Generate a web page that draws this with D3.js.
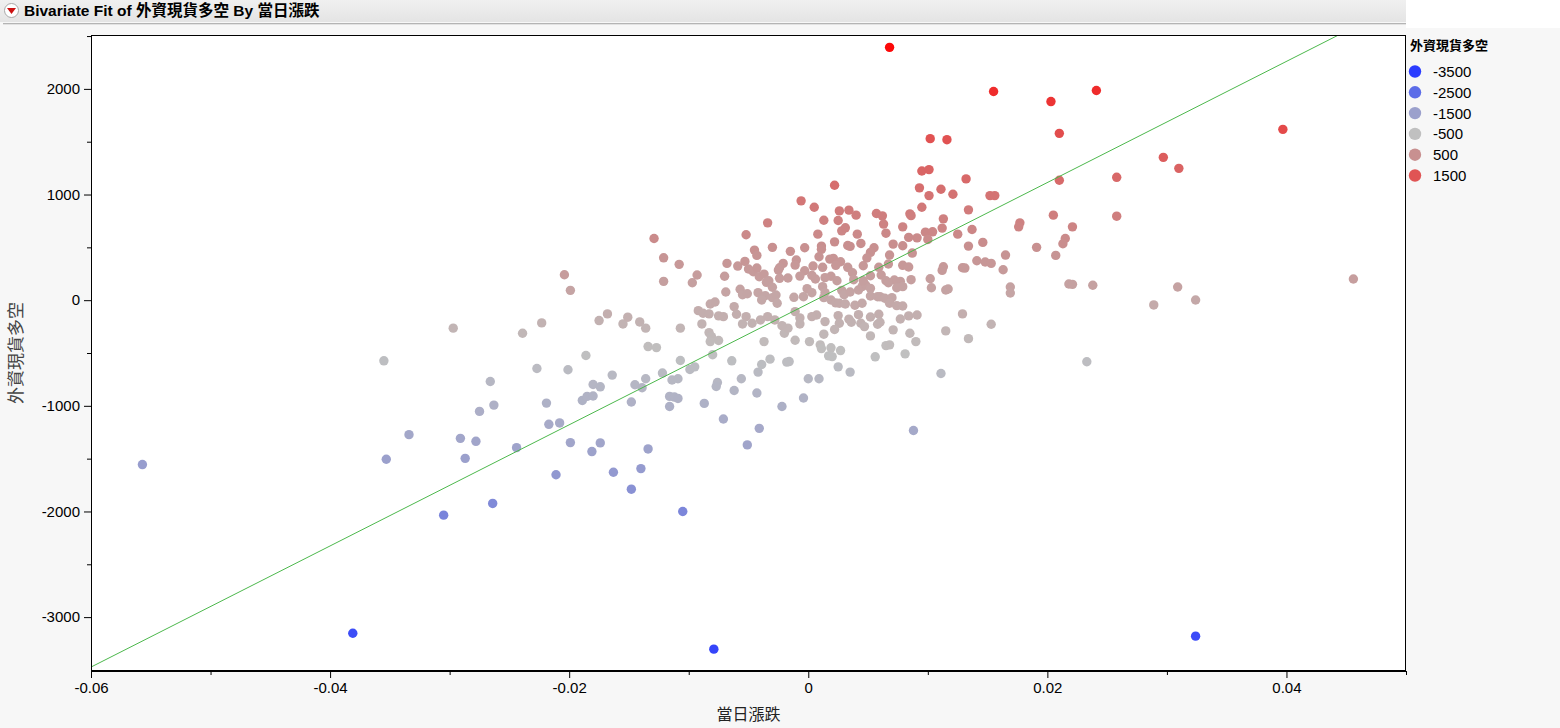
<!DOCTYPE html>
<html><head><meta charset="utf-8">
<script src="https://cdn.jsdelivr.net/npm/d3@7"></script>
<style>
html,body{margin:0;padding:0;background:#f7f7f7;}
svg{display:block;}
</style></head><body>
<svg id="chart" width="1560" height="728"></svg>
<script>
// 當日漲跌 (x values)
const dailyChange = [
-0.0557,-0.0381,-0.0079,0.0324,0.0068,0.0155,0.0203,0.0241,0.0210,0.0397,
0.0297,0.0310,0.0258,0.0210,0.0456,0.0324,0.0309,0.0289,0.0233,0.0258,
0.0088,0.0238,0.0102,0.0116,0.0205,0.0221,0.0215,0.0213,0.0207,0.0218,
0.0221,0.0095,0.0101,0.0022,0.0132,0.0093,0.0111,0.0101,0.0121,0.0152,
0.0156,-0.0006,0.0005,0.0095,0.0026,0.0034,0.0040,0.0057,0.0062,0.0085,
0.0086,0.0134,0.0013,0.0025,0.0113,0.0063,0.0079,0.0112,0.0137,0.0177,
0.0176,0.0028,0.0031,0.0008,0.0041,0.0065,0.0098,0.0104,0.0091,0.0100,
0.0084,0.0079,0.0022,0.0033,0.0035,0.0044,0.0055,0.0011,0.0011,-0.0015,
-0.0003,0.0134,0.0146,0.0087,0.0052,0.0068,0.0018,0.0021,0.0027,0.0009,
-0.0010,-0.0011,-0.0021,-0.0003,0.0004,0.0012,0.0023,0.0033,0.0037,0.0046,
0.0049,0.0059,0.0061,0.0067,0.0072,0.0077,0.0079,0.0084,0.0074,0.0079,
0.0086,0.0102,0.0103,0.0113,0.0112,0.0129,0.0131,0.0141,0.0148,0.0153,
0.0163,0.0165,0.0169,0.0169,0.0115,0.0117,0.0191,-0.0017,-0.0001,0.0003,
-0.0012,-0.0004,0.0012,0.0014,0.0013,0.0019,0.0028,0.0030,0.0023,0.0026,
0.0031,0.0035,0.0042,0.0045,0.0048,0.0052,0.0052,0.0058,0.0060,0.0039,
0.0045,0.0064,0.0070,0.0068,0.0074,0.0079,0.0084,0.0091,0.0059,0.0052,
0.0042,0.0034,0.0036,0.0025,0.0026,0.0014,0.0007,0.0003,-0.0011,-0.0007,
-0.0007,0.0044,0.0047,0.0058,0.0060,0.0071,0.0077,0.0085,0.0090,0.0013,
0.0022,0.0052,0.0001,-0.0011,-0.0020,-0.0017,0.0010,0.0011,0.0019,0.0020,
0.0017,0.0027,0.0065,0.0068,0.0081,0.0056,0.0025,0.0035,-0.0018,-0.0016,
0.0000,0.0009,-0.0004,-0.0022,0.0115,0.0129,0.0134,0.0153,0.0111,0.0125,
0.0071,0.0006,0.0003,0.0019,0.0014,0.0024,-0.0007,0.0052,0.0046,0.0038,
0.0065,0.0067,-0.0034,-0.0052,-0.0129,-0.0121,-0.0108,-0.0204,-0.0199,-0.0121,
-0.0097,-0.0093,-0.0070,-0.0068,-0.0059,-0.0053,-0.0045,-0.0043,-0.0030,-0.0024,
-0.0050,-0.0046,-0.0043,-0.0041,-0.0037,-0.0033,-0.0035,-0.0030,-0.0025,-0.0024,
-0.0069,-0.0057,-0.0055,-0.0051,-0.0042,-0.0036,-0.0039,-0.0030,-0.0027,-0.0026,
-0.0082,-0.0078,-0.0092,-0.0088,-0.0083,-0.0075,-0.0071,-0.0062,-0.0060,-0.0052,
-0.0047,-0.0055,-0.0040,-0.0034,-0.0028,-0.0022,-0.0083,-0.0081,-0.0075,-0.0082,
-0.0089,-0.0107,-0.0141,-0.0136,-0.0155,-0.0151,-0.0168,-0.0175,-0.0223,-0.0239,
-0.0134,-0.0127,-0.0107,-0.0186,-0.0227,-0.0201,-0.0164,-0.0180,-0.0174,-0.0145,
-0.0139,-0.0136,-0.0122,-0.0114,-0.0109,-0.0099,-0.0095,-0.0116,-0.0112,-0.0109,
-0.0148,-0.0116,-0.0087,-0.0080,-0.0064,-0.0076,-0.0077,-0.0062,-0.0056,-0.0043,
-0.0042,-0.0039,-0.0032,-0.0219,-0.0189,-0.0185,-0.0180,-0.0037,-0.0297,-0.0355,
-0.0266,-0.0275,-0.0263,-0.0334,-0.0291,-0.0278,-0.0353,-0.0287,-0.0244,-0.0217,
-0.0208,-0.0199,-0.0181,-0.0174,-0.0211,-0.0264,-0.0305,-0.0071,-0.0041,-0.0051,
-0.0134,-0.0163,-0.0140,-0.0148,-0.0105
];
// 外資現貨多空 (y values)
const foreignFlow = [
-1556,-3153,-3303,-3180,2393,1975,1880,1985,1579,1617,
1352,1248,1163,1135,200,2,125,-45,-583,795,
-1234,141,1529,1519,805,694,584,534,424,153,
150,1223,1236,1088,1148,1063,1050,990,1003,990,
990,940,880,880,845,852,805,820,798,817,
800,855,757,754,770,720,694,682,669,732,
694,656,685,625,625,634,644,647,590,575,
594,515,552,518,509,537,496,512,481,462,
496,512,547,446,452,427,389,395,364,411,
380,332,348,279,323,311,330,311,260,326,
399,311,238,342,191,178,330,314,118,128,
194,203,118,316,282,307,304,373,361,348,
288,427,125,68,96,106,500,210,109,71,
27,33,128,71,24,2,93,52,-26,-29,
-36,77,96,128,144,112,40,33,33,-48,
-29,18,24,-29,-52,-55,-149,-140,-133,-159,
-137,-180,-209,-146,-218,-203,-140,-156,-108,-168,
-225,-218,-250,-228,-209,-281,-178,-313,-392,-322,
-278,-338,-392,-379,-313,-265,-423,-458,-451,-534,
-527,-477,-430,-423,-508,-536,-631,-681,-586,-581,
-744,-744,-926,-1006,-291,-130,-364,-228,-694,625,
531,200,235,226,213,184,228,231,184,194,
184,165,732,619,584,401,339,241,93,178,
165,238,226,348,323,367,474,424,500,307,
295,269,304,222,247,184,169,122,285,207,
77,103,52,61,71,43,2,24,49,-29,
-36,-17,-99,-124,-130,-149,-156,-61,-133,-156,
-218,-225,-187,-156,-187,-241,-307,-345,-382,-392,
-225,-265,-206,-265,-225,-161,-130,-193,-215,-313,
-439,-449,-571,-524,-647,-659,-709,-798,-820,-801,
-829,-744,-690,-756,-744,-656,-631,-911,-917,-930,
-964,-1006,-977,-517,-574,-779,-817,-855,-744,-879,
-681,-609,-558,-974,-949,-911,-907,-392,-265,-574,
-770,-1053,-993,-1273,-1308,-1336,-1506,-1497,-1396,-1175,
-1162,-1348,-1433,-1351,-1652,-1924,-2035,-1125,-1213,-1370,
-1408,-1629,-1594,-1789,-2000
];
const xTicks = [-0.06,-0.04,-0.02,0,0.02,0.04];
const xTickLabels = ["-0.06","-0.04","-0.02","0","0.02","0.04"];
const xMinorTicks = [-0.05,-0.03,-0.01,0.01,0.03,0.05];
const yTicks = [-3000,-2000,-1000,0,1000,2000];
const yTickLabels = ["-3000","-2000","-1000","0","1000","2000"];
const yMinorTicks = [-2500,-1500,-500,500,1500,2500];
const legendValues = [-3500,-2500,-1500,-500,500,1500];
const legendLabels = ["-3500","-2500","-1500","-500","500","1500"];
const legendColors = ["#2b3cff","#5c6ce8","#9ba0cc","#c0c0c0","#c89090","#e05454"];
const colorTopValue = [2500];
const colorTopColor = ["#ff0000"];
const fitCoef = [-33, 57330]; // intercept, slope
const titleText = "Bivariate Fit of 外資現貨多空 By 當日漲跌";
const xLabel = "當日漲跌";
const yLabel = "外資現貨多空";

const svg = d3.select("#chart");
const L = 91, R = 1406, T = 35, B = 671;
const x = d3.scaleLinear().domain([-0.06, 0.05]).range([L, R]);
const y = d3.scaleLinear().domain([-3510, 2510]).range([B, T]);
const color = d3.scaleLinear()
  .domain(legendValues.concat(colorTopValue))
  .range(legendColors.concat(colorTopColor))
  .clamp(true);

// top-right white corner
svg.append("rect").attr("x",1406).attr("y",0).attr("width",154).attr("height",28).attr("fill","#ffffff");
// title bar
const grad = svg.append("defs").append("linearGradient").attr("id","tb").attr("x1",0).attr("y1",0).attr("x2",0).attr("y2",1);
grad.append("stop").attr("offset","0%").attr("stop-color","#f0f0f0");
grad.append("stop").attr("offset","100%").attr("stop-color","#e4e4e4");
svg.append("rect").attr("x",0).attr("y",0).attr("width",1406).attr("height",22).attr("fill","url(#tb)");
svg.append("line").attr("x1",3).attr("x2",1406).attr("y1",23.5).attr("y2",23.5).attr("stroke","#b4b4b4");
svg.append("line").attr("x1",3).attr("x2",1406).attr("y1",24.5).attr("y2",24.5).attr("stroke","#e2e2e2");
// disclosure icon
svg.append("rect").attr("x",4.5).attr("y",3.5).attr("width",14).attr("height",14).attr("rx",7)
  .attr("fill","#ffffff").attr("stroke","#a8a8a8");
svg.append("path").attr("d","M7,8 L16,8 L11.5,14 Z").attr("fill","#cc1111");
svg.append("text").attr("x",24).attr("y",16)
  .attr("font-family","'Liberation Sans', Arial, 'Noto Sans CJK TC', sans-serif")
  .attr("font-size",15.5).attr("font-weight","bold").attr("fill","#000").text(titleText);

// plot background
svg.append("rect").attr("x",L).attr("y",T).attr("width",R-L).attr("height",B-T).attr("fill","#ffffff");

const clip = svg.append("clipPath").attr("id","pc");
clip.append("rect").attr("x",L).attr("y",T).attr("width",R-L).attr("height",B-T);

// points
svg.append("g").attr("clip-path","url(#pc)")
  .selectAll("circle").data(d3.range(dailyChange.length)).join("circle")
  .attr("cx", i => x(dailyChange[i]))
  .attr("cy", i => y(foreignFlow[i]))
  .attr("r", 4.7)
  .attr("fill", i => color(foreignFlow[i]));

// fit line
const fx0 = x.domain()[0], fx1 = x.domain()[1];
svg.append("line").attr("clip-path","url(#pc)")
  .attr("x1", x(fx0)).attr("y1", y(fitCoef[0] + fitCoef[1]*fx0))
  .attr("x2", x(fx1)).attr("y2", y(fitCoef[0] + fitCoef[1]*fx1))
  .attr("stroke","#4cb84c").attr("stroke-width",1);

// frame
svg.append("rect").attr("x",L+0.5).attr("y",T+0.5).attr("width",R-L-1).attr("height",B-T-1)
  .attr("fill","none").attr("stroke","#000");

const tickFont = "'Liberation Sans', Arial, sans-serif";
// x axis
svg.append("g").attr("transform",`translate(0,${B})`)
  .call(d3.axisBottom(x).tickValues(xTicks).tickSize(7).tickSizeOuter(0).tickPadding(4)
    .tickFormat((d,i) => xTickLabels[i]));
svg.append("g").attr("transform",`translate(0,${B})`)
  .call(d3.axisBottom(x).tickValues(xMinorTicks).tickSize(4).tickSizeOuter(0).tickFormat(""));
// y axis
svg.append("g").attr("transform",`translate(${L},0)`)
  .call(d3.axisLeft(y).tickValues(yTicks).tickSize(7).tickSizeOuter(0).tickPadding(4)
    .tickFormat((d,i) => yTickLabels[i]));
svg.append("g").attr("transform",`translate(${L},0)`)
  .call(d3.axisLeft(y).tickValues(yMinorTicks).tickSize(4).tickSizeOuter(0).tickFormat(""));
svg.selectAll(".domain").attr("stroke","#000");
svg.selectAll(".tick line").attr("stroke","#000");
svg.selectAll(".tick text").attr("font-family",tickFont).attr("font-size",15).attr("fill","#000");

// axis labels
svg.append("text").attr("x",(L+R)/2).attr("y",720).attr("text-anchor","middle")
  .attr("font-family","'Noto Sans CJK TC', sans-serif").attr("font-size",16).attr("fill","#222").text(xLabel);
svg.append("text").attr("transform",`translate(22,${(T+B)/2}) rotate(-90)`).attr("text-anchor","middle")
  .attr("font-family","'Noto Sans CJK TC', sans-serif").attr("font-size",17).attr("fill","#444").text(yLabel);

// legend
const lg = svg.append("g");
lg.append("text").attr("x",1410).attr("y",50)
  .attr("font-family","'Noto Sans CJK TC', sans-serif").attr("font-size",13).attr("font-weight","bold")
  .attr("fill","#000").text(yLabel);
const items = lg.selectAll("g.it").data(legendValues).join("g").attr("class","it")
  .attr("transform",(d,i)=>`translate(1415,${71.5 + i*20.8})`);
items.append("circle").attr("r",6.2).attr("fill",(d,i)=>legendColors[i]);
items.append("text").attr("x",18).attr("dy","0.36em")
  .attr("font-family",tickFont).attr("font-size",15).attr("fill","#000").text((d,i)=>legendLabels[i]);
</script>
</body></html>
